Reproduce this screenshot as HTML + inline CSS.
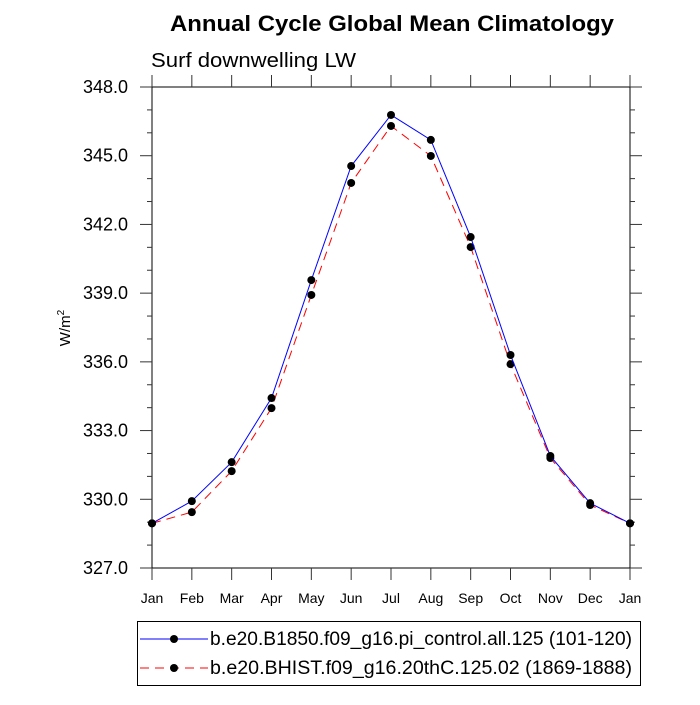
<!DOCTYPE html>
<html><head><meta charset="utf-8"><style>
body{margin:0;background:#fff;font-family:"Liberation Sans",sans-serif}
svg text{font-family:"Liberation Sans",sans-serif}
</style></head><body>
<svg id="chart" width="700" height="700" xmlns="http://www.w3.org/2000/svg">
<rect width="700" height="700" fill="#fff"/>
<text x="170" y="31" font-size="22" font-weight="bold" textLength="444" lengthAdjust="spacingAndGlyphs">Annual Cycle Global Mean Climatology</text>
<text x="151" y="67" font-size="20" textLength="205" lengthAdjust="spacingAndGlyphs">Surf downwelling LW</text>
<text transform="translate(70,328) rotate(-90)" font-size="15" text-anchor="middle">W/m<tspan dy="-6" font-size="10">2</tspan></text>
<g id="axes"></g>
<g id="series"></g>
<g>
<rect x="137.5" y="621.5" width="503" height="64" fill="none" stroke="#000" stroke-width="1"/>
<g>
<line x1="140" y1="639" x2="208" y2="639" stroke="#0000ff" stroke-width="1"/>
<circle cx="174" cy="639" r="4" fill="#000"/>
<text x="210" y="645" font-size="19" textLength="422" lengthAdjust="spacingAndGlyphs">b.e20.B1850.f09_g16.pi_control.all.125 (101-120)</text>
</g>
<g>
<line x1="140" y1="668" x2="208" y2="668" stroke="#ff0000" stroke-width="1" stroke-dasharray="9,6"/>
<circle cx="174" cy="668" r="4" fill="#000"/>
<text x="210" y="674" font-size="19" textLength="422" lengthAdjust="spacingAndGlyphs">b.e20.BHIST.f09_g16.20thC.125.02 (1869-1888)</text>
</g>
</g>
</svg>
<script>
const months=["Jan","Feb","Mar","Apr","May","Jun","Jul","Aug","Sep","Oct","Nov","Dec","Jan"];
const controlValues=[328.95,329.92,331.62,334.42,339.57,344.55,346.78,345.69,341.45,336.30,331.89,329.83,328.95];
const histValues=[328.95,329.44,331.23,333.98,338.92,343.81,346.30,344.99,341.01,335.90,331.80,329.75,328.95];
const yTicks=[327,330,333,336,339,342,345,348];
const NS="http://www.w3.org/2000/svg";
const L=152,R=630,T=87,B=568,YMIN=327,YMAX=348;
const xs=i=>L+(R-L)*i/(months.length-1);
const ys=v=>B-(B-T)*(v-YMIN)/(YMAX-YMIN);
function mk(tag,attrs,parent){const e=document.createElementNS(NS,tag);for(const k in attrs)e.setAttribute(k,attrs[k]);parent.appendChild(e);return e;}
const ax=document.getElementById('axes');
const frame=mk('rect',{x:L,y:T,width:R-L,height:B-T,fill:'none',stroke:'#000','stroke-width':1},ax);


for(let v=YMIN;v<=YMAX;v++){
  const major=yTicks.includes(v);const len=major?12:5;const y=ys(v);
  mk('line',{x1:L-len,y1:y,x2:L,y2:y,stroke:'#333'},ax);
  mk('line',{x1:R,y1:y,x2:R+len,y2:y,stroke:'#333'},ax);
}
yTicks.forEach(v=>{
  const t=mk('text',{x:L-24,y:ys(v)+6,'font-size':18,'text-anchor':'end'},ax);
  t.textContent=v.toFixed(1);
  
  
});
months.forEach((m,i)=>{
  const x=xs(i);
  mk('line',{x1:x,y1:B,x2:x,y2:B+12,stroke:'#333'},ax);
  mk('line',{x1:x,y1:T-12,x2:x,y2:T,stroke:'#333'},ax);
  const t=mk('text',{x:x,y:B+35,'font-size':14,'text-anchor':'middle'},ax);
  t.textContent=m;
  
  
});
const sg=document.getElementById('series');
function drawSeries(vals,color,dash,name){
  const g=mk('g',{},sg);
  
  
  const pl=mk('polyline',{points:vals.map((v,i)=>xs(i)+','+ys(v)).join(' '),fill:'none',stroke:color,'stroke-width':1},g);
  if(dash)pl.setAttribute('stroke-dasharray',dash);
  vals.forEach((v,i)=>{
    const c=mk('circle',{cx:xs(i),cy:ys(v),r:4,fill:'#000'},g);
    
    
  });
}
drawSeries(histValues,'#ff0000','9,6','hist-series');
drawSeries(controlValues,'#0000ff',null,'control-series');
</script>
</body></html>
